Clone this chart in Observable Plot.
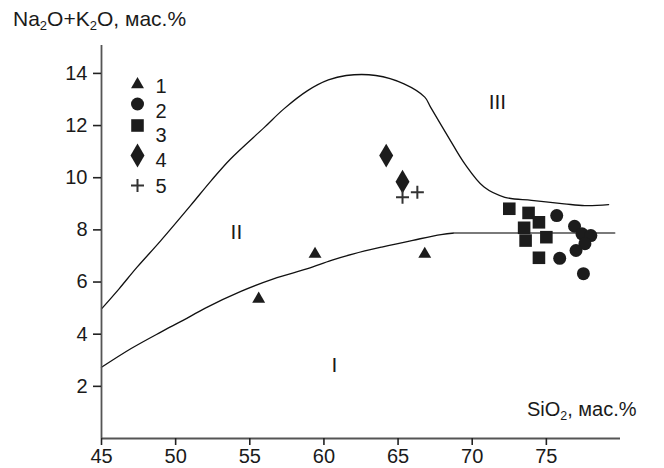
<!DOCTYPE html>
<html>
<head>
<meta charset="utf-8">
<script src="https://cdn.jsdelivr.net/npm/d3@7"></script>
<script src="https://cdn.jsdelivr.net/npm/@observablehq/plot@0.6"></script>
<style>
  html, body { margin: 0; padding: 0; background: #fff; }
  #wrap { position: relative; width: 664px; height: 468px; font-family: "Liberation Sans", Arial, sans-serif; color: #1a1a1a; }
  .lbl { position: absolute; white-space: nowrap; line-height: 1; }
  .lbl sub { font-size: 0.62em; vertical-align: -0.3em; line-height: 0; }
</style>
</head>
<body>
<div id="wrap">
  <div id="chart"></div>
  <div class="lbl" id="ytitle" style="left:13px; top:8px; font-size:21px;">Na<sub>2</sub>O+K<sub>2</sub>O, мас.%</div>
  <div class="lbl" id="xtitle" style="left:527px; top:399px; font-size:20px;">SiO<sub>2</sub>, мас.%</div>
</div>
<script>
// ---- data ----
const seriesNames = ["1", "2", "3", "4", "5"];

const s1SiO2 = [55.6, 59.4, 66.8];
const s1Alk  = [5.35, 7.07, 7.07];

const s2SiO2 = [75.7, 76.9, 77.4, 78.0, 77.6, 77.0, 75.9, 77.5];
const s2Alk  = [8.55, 8.14, 7.85, 7.78, 7.47, 7.21, 6.91, 6.32];

const s3SiO2 = [72.5, 73.8, 74.5, 73.5, 73.6, 75.0, 74.5];
const s3Alk  = [8.81, 8.65, 8.29, 8.08, 7.59, 7.72, 6.93];

const s4SiO2 = [64.2, 65.3];
const s4Alk  = [10.85, 9.85];

const s5SiO2 = [65.3, 66.3];
const s5Alk  = [9.25, 9.44];

// boundary lines
const lowerSiO2 = [45, 47, 49, 50.5, 52, 54.4, 56.6, 58.9, 60.5, 62, 63.9, 66, 67.9, 68.8];
const lowerAlk  = [2.73, 3.45, 4.08, 4.53, 5.0, 5.64, 6.12, 6.51, 6.83, 7.08, 7.34, 7.6, 7.82, 7.88];
const flatSiO2  = [68.8, 79.6];
const flatAlk   = [7.88, 7.88];

const upperSiO2 = [45, 46.2, 47.4, 49.0, 51.0, 52.4, 53.7, 56.0, 57.3, 58.9, 60.3, 61.5, 63.5, 65.4, 66.8, 67.2, 68.4, 69.5, 70.8, 72.2, 74.0, 76.2, 77.6, 79.2];
const upperAlk  = [4.97, 5.75, 6.57, 7.59, 8.93, 9.89, 10.72, 11.94, 12.64, 13.34, 13.75, 13.92, 13.92, 13.6, 13.09, 12.7, 11.55, 10.53, 9.64, 9.25, 9.13, 9.0, 8.93, 8.97];

// field labels
const fieldNames = ["I", "II", "III"];
const fieldSiO2  = [60.7, 54.1, 71.7];
const fieldAlk   = [2.8, 7.9, 12.9];

// tick values
const xTicks = [45, 50, 55, 60, 65, 70, 75];
const yTicks = [2, 4, 6, 8, 10, 12, 14];

// ---- helpers ----
const zip = (xs, ys) => xs.map((x, i) => ({x, y: ys[i]}));

const diamondTall = {
  draw(ctx, size) {
    const r = Math.sqrt(size / Math.PI);
    ctx.moveTo(0, -1.7 * r); ctx.lineTo(r, 0); ctx.lineTo(0, 1.7 * r); ctx.lineTo(-r, 0); ctx.closePath();
  }
};
const plusSym = {
  draw(ctx, size) {
    const r = Math.sqrt(size / Math.PI);
    ctx.moveTo(-r, 0); ctx.lineTo(r, 0); ctx.moveTo(0, -r); ctx.lineTo(0, r);
  }
};

const INK = "#1c1c1c";
const styles = [
  {symbol: "triangle", r: 4.8, fill: INK, stroke: "none"},
  {symbol: "circle", r: 6.5, fill: INK, stroke: "none"},
  {symbol: "square", r: 7.1, fill: INK, stroke: "none"},
  {symbol: diamondTall, r: 7.0, fill: INK, stroke: "none"},
  {symbol: plusSym, r: 6.5, fill: "none", stroke: "#333", strokeWidth: 2}
];
const seriesData = [
  zip(s1SiO2, s1Alk), zip(s2SiO2, s2Alk), zip(s3SiO2, s3Alk), zip(s4SiO2, s4Alk), zip(s5SiO2, s5Alk)
];

// legend layout (pixel offsets from frame top-left)
const legSymDy = [39, 58.5, 80, 110, 140];
const legTxtDy = [33.5, 58, 82, 107, 133];

const marks = [];
marks.push(Plot.line(zip(upperSiO2, upperAlk), {x: "x", y: "y", curve: "catmull-rom", stroke: "#111", strokeWidth: 1.3}));
marks.push(Plot.line(zip(lowerSiO2, lowerAlk), {x: "x", y: "y", curve: "catmull-rom", stroke: "#111", strokeWidth: 1.3}));
marks.push(Plot.line(zip(flatSiO2, flatAlk), {x: "x", y: "y", stroke: "#7a7a7a", strokeWidth: 1.8}));

seriesData.forEach((d, i) => {
  marks.push(Plot.dot(d, {x: "x", y: "y", ...styles[i]}));
});

// legend
seriesNames.forEach((name, i) => {
  marks.push(Plot.dot([name], {frameAnchor: "top-left", dx: 36, dy: legSymDy[i], ...styles[i]}));
  marks.push(Plot.text([name], {text: d => d, frameAnchor: "top-left", dx: 54, dy: legTxtDy[i], textAnchor: "start", fontSize: 20, fill: "#1a1a1a"}));
});

// field labels
marks.push(Plot.text(fieldNames.map((t, i) => ({t, x: fieldSiO2[i], y: fieldAlk[i]})),
  {x: "x", y: "y", text: "t", fontSize: 21, fill: "#1a1a1a"}));

// axes
marks.push(Plot.ruleX([45], {stroke: "#555", strokeWidth: 1.8}));
marks.push(Plot.ruleY([0], {stroke: "#555", strokeWidth: 1.8}));
marks.push(Plot.axisX({ticks: xTicks, tickSize: 7, tickPadding: 3, tickFormat: d => String(d), fontSize: 20, stroke: "#222", strokeWidth: 1.6, label: null}));
marks.push(Plot.axisY({ticks: yTicks, tickSize: 8, tickPadding: 6, tickFormat: d => String(d), fontSize: 20, stroke: "#222", strokeWidth: 1.6, label: null}));

const chart = Plot.plot({
  width: 664,
  height: 468,
  marginLeft: 101,
  marginRight: 44,
  marginTop: 45,
  marginBottom: 30,
  x: {domain: [45, 80], label: null},
  y: {domain: [0, 15.07], label: null},
  style: {fontFamily: "'Liberation Sans', Arial, sans-serif", fontSize: "20px", background: "#fff", color: "#1a1a1a"},
  marks
});
document.getElementById("chart").appendChild(chart);
</script>
</body>
</html>
